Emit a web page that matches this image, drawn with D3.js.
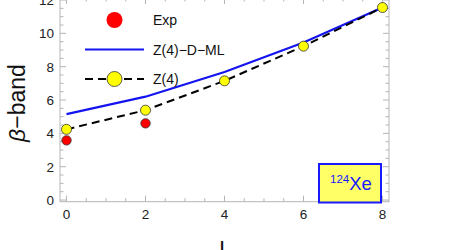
<!DOCTYPE html>
<html>
<head>
<meta charset="utf-8">
<script src="https://cdn.jsdelivr.net/npm/d3@7"></script>
<style>
  body { margin: 0; background: #fff; }
  text { font-family: "Liberation Sans", Arial, sans-serif; }
</style>
</head>
<body>
<svg id="chart" width="450" height="250"></svg>
<script>
const spins = [0, 2, 4, 6, 8];
const expSpins = [0, 2];
const expValues = [3.58, 4.6];
const mlValues = [5.15, 6.2, 7.68, 9.45, 11.55];
const z4Values = [4.24, 5.39, 7.15, 9.23, 11.55];
const xTicks = [0, 2, 4, 6, 8];
const yTicks = [0, 2, 4, 6, 8, 10, 12];
const legendLabels = ["Exp", "Z(4)\u2212D\u2212ML", "Z(4)"];

const svg = d3.select("#chart");
const plotLeft = 60, plotRight = 389, plotTop = -2, plotBottom = 201.7;

const x = d3.scaleLinear().domain([-0.165, 8.165]).range([plotLeft, plotRight]);
const y = d3.scaleLinear().domain([-0.1, 12.12]).range([plotBottom, plotTop]);

const axisColor = "#b5b5b5";
const blue = "#1414f0";

// frame
svg.append("rect")
   .attr("x", plotLeft).attr("y", plotTop)
   .attr("width", plotRight - plotLeft).attr("height", plotBottom - plotTop)
   .attr("fill", "none").attr("stroke", axisColor).attr("stroke-width", 1);

// ticks pointing inward on all four sides
let drawTicks = (values, major, along) => {
  values.forEach((v) => {
    let l = major ? 6 : 3.5;
    if (along === "x") {
      svg.append("line").attr("x1", x(v)).attr("x2", x(v))
         .attr("y1", plotBottom).attr("y2", plotBottom - l).attr("stroke", axisColor);
      svg.append("line").attr("x1", x(v)).attr("x2", x(v))
         .attr("y1", plotTop).attr("y2", plotTop + l).attr("stroke", axisColor);
    } else {
      svg.append("line").attr("y1", y(v)).attr("y2", y(v))
         .attr("x1", plotLeft).attr("x2", plotLeft + l).attr("stroke", axisColor);
      svg.append("line").attr("y1", y(v)).attr("y2", y(v))
         .attr("x1", plotRight).attr("x2", plotRight - l).attr("stroke", axisColor);
    }
  });
};
let minorX = d3.range(0, 8.01, 0.5).filter((v) => v % 2 !== 0);
let minorY = d3.range(0, 12.01, 0.5).filter((v) => v % 2 !== 0);
drawTicks(xTicks, true, "x");
drawTicks(minorX, false, "x");
drawTicks(yTicks, true, "y");
drawTicks(minorY, false, "y");

// tick labels
svg.selectAll(".xlab").data(xTicks).enter().append("text")
   .attr("x", (d) => x(d)).attr("y", plotBottom + 17.5)
   .attr("text-anchor", "middle").attr("font-size", 13.5).attr("fill", "#222")
   .text((d) => d);
svg.selectAll(".ylab").data(yTicks).enter().append("text")
   .attr("x", plotLeft - 6).attr("y", (d) => y(d) + 5)
   .attr("text-anchor", "end").attr("font-size", 13.5).attr("fill", "#222")
   .text((d) => d);

// axis titles
svg.append("text")
   .attr("transform", "translate(25,103) rotate(-90)")
   .attr("text-anchor", "middle").attr("font-size", 23).attr("fill", "#111")
   .html('<tspan font-style="italic">\u03b2</tspan>\u2212band');
svg.append("text")
   .attr("x", 222).attr("y", 256)
   .attr("text-anchor", "middle").attr("font-size", 22).attr("fill", "#111")
   .text("I");

// lines
let line = d3.line().x((d) => x(d[0])).y((d) => y(d[1]));
svg.append("path")
   .attr("d", line(d3.zip(spins, mlValues)))
   .attr("fill", "none").attr("stroke", blue).attr("stroke-width", 2.2);
svg.append("path")
   .attr("d", line(d3.zip(spins, z4Values)))
   .attr("fill", "none").attr("stroke", "#000").attr("stroke-width", 2)
   .attr("stroke-dasharray", "8,5");

// points
svg.selectAll(".exp").data(d3.zip(expSpins, expValues)).enter().append("circle")
   .attr("cx", (d) => x(d[0])).attr("cy", (d) => y(d[1])).attr("r", 4.7)
   .attr("fill", "#ff0000").attr("stroke", "#333").attr("stroke-width", 0.8);
svg.selectAll(".z4").data(d3.zip(spins, z4Values)).enter().append("circle")
   .attr("cx", (d) => x(d[0])).attr("cy", (d) => y(d[1])).attr("r", 5)
   .attr("fill", "#ffff00").attr("stroke", "#333").attr("stroke-width", 0.8);

// legend
let legendRows = [20, 49.5, 79];
svg.append("circle").attr("cx", 114.5).attr("cy", legendRows[0]).attr("r", 8)
   .attr("fill", "#ff0000");
svg.append("line").attr("x1", 85).attr("x2", 144)
   .attr("y1", legendRows[1]).attr("y2", legendRows[1])
   .attr("stroke", blue).attr("stroke-width", 2.2);
svg.append("line").attr("x1", 85).attr("x2", 144)
   .attr("y1", legendRows[2]).attr("y2", legendRows[2])
   .attr("stroke", "#000").attr("stroke-width", 2).attr("stroke-dasharray", "8,5");
svg.append("circle").attr("cx", 114.5).attr("cy", legendRows[2]).attr("r", 7.5)
   .attr("fill", "#ffff00").attr("stroke", "#333").attr("stroke-width", 0.8);
svg.selectAll(".leglab").data(legendLabels).enter().append("text")
   .attr("x", 153).attr("y", (d, i) => legendRows[i] + 5)
   .attr("font-size", 14).attr("fill", "#111")
   .text((d) => d);

// nucleus label box
svg.append("rect")
   .attr("x", 319).attr("y", 164).attr("width", 62).attr("height", 38.5)
   .attr("fill", "#ffff66").attr("stroke", "#1a1aff").attr("stroke-width", 2);
svg.append("text")
   .attr("x", 351).attr("y", 190).attr("text-anchor", "middle")
   .attr("fill", "#1a1aff").attr("font-size", 18.5)
   .html('<tspan font-size="11.5" dy="-7">124</tspan><tspan dy="7">Xe</tspan>');
</script>
</body>
</html>
